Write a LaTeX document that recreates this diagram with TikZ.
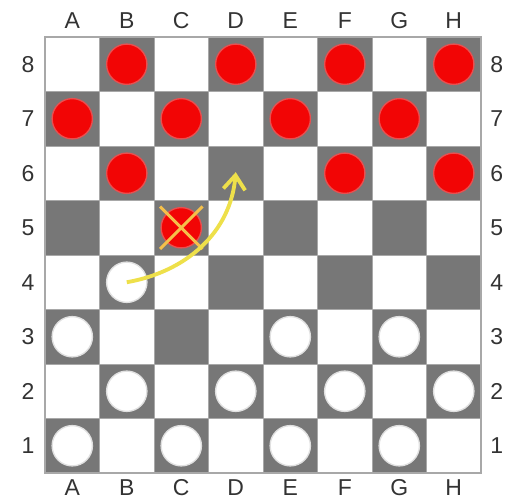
\documentclass[tikz,border=0pt]{standalone}
\usepackage{fontspec}
\setmainfont{Liberation Sans}
\usetikzlibrary{arrows.meta}

\definecolor{casillaoscura}{HTML}{777777}
\definecolor{rejillagris}{HTML}{A8A8A8}
\definecolor{fichaRoja}{HTML}{F20505}
\definecolor{bordeRojo}{HTML}{E85050}
\definecolor{amarilloFlecha}{HTML}{EEE04A}
\definecolor{naranjaCruz}{HTML}{F5C04A}

\tikzset{
  etiqueta/.style={font=\fontsize{12}{14}\selectfont, text=black!80, inner sep=0pt},
  roja/.style={circle, fill=fichaRoja, draw=bordeRojo, line width=0.7pt, minimum size=0.74cm, inner sep=0pt},
  blanca/.style={circle, fill=white, draw=black!12, line width=0.7pt, minimum size=0.74cm, inner sep=0pt},
  flecha/.style={amarilloFlecha, line width=2pt, -{Straight Barb[length=2.6mm, width=4mm, line width=2pt]}},
  cruz/.style={naranjaCruz, line width=1.6pt}
}

\begin{document}
\begin{tikzpicture}
    \useasboundingbox (-0.826,-0.477) rectangle (8.495,8.679);

    % Casillas del tablero
    \foreach \c in {1,...,8}
      \foreach \f in {1,...,8} {
        \ifodd\numexpr\c+\f\relax
          \fill[white] (\c-1,\f-1) rectangle (\c,\f);
        \else
          \fill[casillaoscura] (\c-1,\f-1) rectangle (\c,\f);
        \fi
      }

    % Rejilla y borde
    \draw[rejillagris, line width=0.5pt] (0,0) grid (8,8);
    \draw[rejillagris, line width=0.6pt] (0,0) rectangle (8,8);

    % Letras de las columnas (arriba y abajo)
    \foreach \l [count=\i] in {A,B,C,D,E,F,G,H} {
        \node[etiqueta] (arriba\l) at (\i-0.5, 8.31) {\l};
        \node[etiqueta] (abajo\l) at (\i-0.5, -0.26) {\l};
    }

    % Números de las filas (izquierda y derecha)
    \foreach \n in {1,...,8} {
        \node[etiqueta] (izq\n) at (-0.31, \n-0.5) {\n};
        \node[etiqueta] (der\n) at (8.29, \n-0.5) {\n};
    }

    % Fichas rojas
    \foreach \sq/\c/\f in {b8/2/8, d8/4/8, f8/6/8, h8/8/8,
                           a7/1/7, c7/3/7, e7/5/7, g7/7/7,
                           b6/2/6, f6/6/6, h6/8/6, c5/3/5}
        \node[roja] (\sq) at (\c-0.5, \f-0.5) {};

    % Fichas blancas
    \foreach \sq/\c/\f in {b4/2/4, a3/1/3, e3/5/3, g3/7/3,
                           b2/2/2, d2/4/2, f2/6/2, h2/8/2,
                           a1/1/1, c1/3/1, e1/5/1, g1/7/1}
        \node[blanca] (\sq) at (\c-0.5, \f-0.5) {};

    % Ficha capturada en c5
    \draw[cruz] ([shift={(-0.39,0.39)}]c5.center) -- ([shift={(0.39,-0.39)}]c5.center);
    \draw[cruz] ([shift={(-0.39,-0.39)}]c5.center) -- ([shift={(0.39,0.39)}]c5.center);

    % Salto de b4 a d6
    \coordinate (d6) at (3.5, 5.52);
    \draw[flecha] (b4.center) to[out=10, in=-95] (d6);

\end{tikzpicture}
\end{document}
